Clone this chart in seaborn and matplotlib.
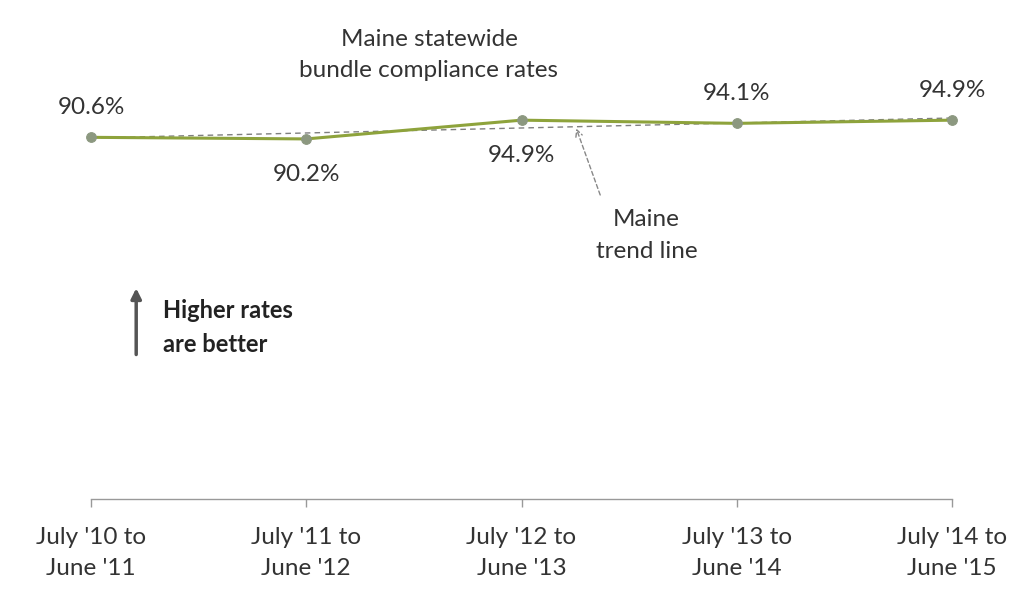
import numpy as np
import pandas as pd
import seaborn as sns
from matplotlib import pyplot as plt

### Data ###
periods = ["July '10 to\nJune '11", "July '11 to\nJune '12", "July '12 to\nJune '13",
           "July '13 to\nJune '14", "July '14 to\nJune '15"]
rates = [90.6, 90.2, 94.9, 94.1, 94.9]
rate_labels = ['90.6%', '90.2%', '94.9%', '94.1%', '94.9%']
label_above = [True, False, False, True, True]

df = pd.DataFrame({'x': np.arange(len(periods)), 'rate': rates})

sns.set_theme(style='white')
plt.rcParams['font.family'] = ['Lato', 'DejaVu Sans']
txt_color = '#333333'
fs = 17.5

fig = plt.figure(figsize=(10.30, 5.96), dpi=100)
ax = fig.add_axes([91 / 1030, 1 - 499 / 596, (952 - 91) / 1030, 499 / 596])

### Trend line + series ###
sns.regplot(x='x', y='rate', data=df, ax=ax, scatter=False, ci=None, truncate=True,
            line_kws={'color': '#7f7f7f', 'lw': 1.0, 'ls': (0, (4, 3))})
sns.lineplot(x='x', y='rate', data=df, ax=ax, color='#8ea33c', lw=2.2,
             marker='o', markersize=7, markerfacecolor='#8c9880',
             markeredgecolor='#8c9880', clip_on=False)

ax.set_xlim(0, 4)
ax.set_ylim(0, 125)

### Data labels ###
for i, (v, lab, up) in enumerate(zip(rates, rate_labels, label_above)):
    off = 7.5 if up else -8.8
    ax.text(i, v + off, lab, ha='center', va='center', fontsize=fs, color=txt_color)

### Annotations ###
ax.text(1.57, 111.3, 'Maine statewide\nbundle compliance rates', ha='center', va='center',
        fontsize=fs, color=txt_color, linespacing=1.6)
ax.text(2.58, 66, 'Maine\ntrend line', ha='center', va='center',
        fontsize=fs, color=txt_color, linespacing=1.6)
ax.annotate('', xy=(2.25, 93.5), xytext=(2.37, 75.5),
            arrowprops=dict(arrowstyle='->', color='#888888', lw=1.0, ls=(0, (3, 2))))

ax.annotate('', xy=(0.21, 53.5), xytext=(0.21, 35.5),
            arrowprops=dict(arrowstyle='-|>,head_width=0.25,head_length=0.5',
                            color='#555555', lw=2.5))
ax.text(0.335, 43, 'Higher rates\nare better', ha='left', va='center', fontsize=17,
        fontweight='bold', color='#222222', linespacing=1.6)

### Axes styling ###
sns.despine(ax=ax, left=True)
ax.spines['bottom'].set_color('#999999')
ax.spines['bottom'].set_linewidth(1.0)
ax.set_xticks(df['x'])
ax.set_xticklabels(periods, fontsize=fs, color=txt_color, linespacing=1.6)
ax.tick_params(axis='x', bottom=True, direction='out', length=6, color='#999999',
               width=1.0, pad=14)
ax.set_yticks([])
ax.set_xlabel('')
ax.set_ylabel('')

fig.savefig('out.png', dpi=100)
